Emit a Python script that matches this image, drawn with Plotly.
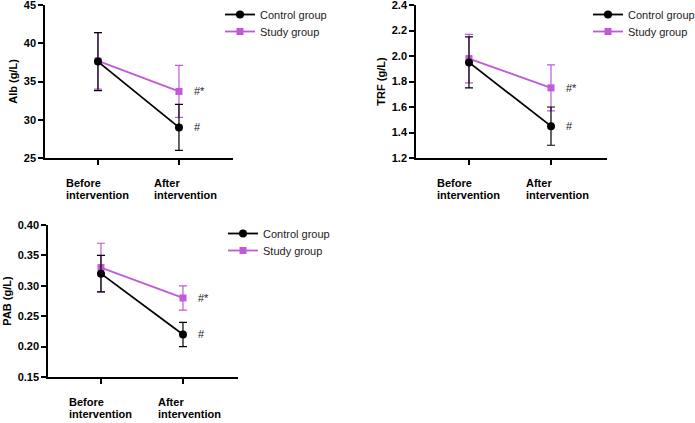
import plotly.graph_objects as go

categories = ["Before intervention", "After intervention"]
tick_line1 = ["Before", "After"]
tick_line2 = ["intervention", "intervention"]
groups = ["Control group", "Study group"]

alb_control = [37.6, 29.0]
alb_control_err = [3.8, 3.0]
alb_study = [37.7, 33.7]
alb_study_err = [3.7, 3.4]

trf_control = [1.95, 1.45]
trf_control_err = [0.20, 0.15]
trf_study = [1.98, 1.75]
trf_study_err = [0.19, 0.18]

pab_control = [0.32, 0.22]
pab_control_err = [0.03, 0.02]
pab_study = [0.33, 0.28]
pab_study_err = [0.04, 0.02]

sig_control = "#"
sig_study = "#*"

BLACK = "#000000"
PURPLE = "#c05ad8"
FONT = "Liberation Sans, Arial, sans-serif"
H, W = 423, 695

panels = [
    dict(name="Alb (g/L)", c=alb_control, ce=alb_control_err, s=alb_study, se=alb_study_err,
         yr=[25, 45], dt=5, fmt="", xd=[45/W, 233/W], yd=[1-158/H, 1-5/H],
         xr=[-0.654, 1.667], legx=220/W, legy=(0, 17)),
    dict(name="TRF (g/L)", c=trf_control, ce=trf_control_err, s=trf_study, se=trf_study_err,
         yr=[1.2, 2.4], dt=0.2, fmt=".1f", xd=[416/W, 607/W], yd=[1-158/H, 1-5/H],
         xr=[-0.646, 1.683], legx=588/W, legy=(0, 17)),
    dict(name="PAB (g/L)", c=pab_control, ce=pab_control_err, s=pab_study, se=pab_study_err,
         yr=[0.15, 0.40], dt=0.05, fmt=".2f", xd=[48/W, 238/W], yd=[1-377/H, 1-225/H],
         xr=[-0.646, 1.671], legx=223/W, legy=(219, 236)),
]

fig = go.Figure()
annotations = []
layout = {}
for i, p in enumerate(panels):
    n = "" if i == 0 else str(i + 1)
    xa, ya = "x" + n, "y" + n
    leg_c = "legend" + ("" if i == 0 else str(2 * i + 1))
    leg_s = "legend" + str(2 * i + 2)
    fig.add_trace(go.Scatter(
        x=categories, y=p["s"], name=groups[1], xaxis=xa, yaxis=ya, legend=leg_s,
        mode="lines+markers",
        line=dict(color=PURPLE, width=1.8),
        marker=dict(symbol="square", size=7, color=PURPLE),
        error_y=dict(type="data", array=p["se"], color=PURPLE, thickness=1.2, width=4),
    ))
    fig.add_trace(go.Scatter(
        x=categories, y=p["c"], name=groups[0], xaxis=xa, yaxis=ya, legend=leg_c,
        mode="lines+markers",
        line=dict(color=BLACK, width=1.8),
        marker=dict(symbol="circle", size=8, color=BLACK),
        error_y=dict(type="data", array=p["ce"], color=BLACK, thickness=1.2, width=4),
    ))
    layout["xaxis" + n] = dict(
        domain=p["xd"], anchor=ya, type="category", categoryorder="array",
        categoryarray=categories, range=p["xr"], showticklabels=False,
        showline=True, linecolor=BLACK, linewidth=1.5, ticks="outside",
        ticklen=5, tickwidth=1.5, tickcolor=BLACK, showgrid=False, zeroline=False,
    )
    layout["yaxis" + n] = dict(
        domain=p["yd"], anchor=xa, range=p["yr"], dtick=p["dt"], tick0=p["yr"][0],
        tickformat=p["fmt"], showline=True, linecolor=BLACK, linewidth=1.5,
        ticks="outside", ticklen=5, tickwidth=1.5, tickcolor=BLACK,
        showgrid=False, zeroline=False, ticklabeloverflow="allow",
        tickfont=dict(family=FONT, size=11, color=BLACK, weight="bold"),
        title=dict(text=p["name"], standoff=4,
                   font=dict(family=FONT, size=11, color=BLACK, weight="bold")),
    )
    for leg, ty in zip([leg_c, leg_s], p["legy"]):
        layout[leg] = dict(
            x=p["legx"], y=1 - ty / H, xanchor="left", yanchor="top",
            bgcolor="rgba(0,0,0,0)",
            font=dict(family=FONT, size=11, color="#222222"),
            itemwidth=30,
        )
    for k, cat in enumerate(categories):
        dx = -34 if k == 0 else -27
        annotations.append(dict(
            x=cat, y=p["yr"][0], xref=xa, yref=ya, text=tick_line1[k], showarrow=False,
            xanchor="left", yanchor="middle", yshift=-25, xshift=dx,
            font=dict(family=FONT, size=11, color=BLACK, weight="bold"),
        ))
        annotations.append(dict(
            x=cat, y=p["yr"][0], xref=xa, yref=ya, text=tick_line2[k], showarrow=False,
            xanchor="left", yanchor="middle", yshift=-37, xshift=dx,
            font=dict(family=FONT, size=11, color=BLACK, weight="bold"),
        ))
    annotations.append(dict(
        x=categories[1], y=p["s"][1], xref=xa, yref=ya, text=sig_study, showarrow=False,
        xanchor="left", yanchor="middle", xshift=13,
        font=dict(family=FONT, size=11, color="#222222"),
    ))
    annotations.append(dict(
        x=categories[1], y=p["c"][1], xref=xa, yref=ya, text=sig_control, showarrow=False,
        xanchor="left", yanchor="middle", xshift=13,
        font=dict(family=FONT, size=11, color="#222222"),
    ))

fig.update_layout(
    **layout,
    annotations=annotations,
    width=W, height=H,
    margin=dict(l=0, r=0, t=0, b=0, autoexpand=False),
    paper_bgcolor="white", plot_bgcolor="white",
    font=dict(family=FONT),
    showlegend=True,
)
fig.write_html("out.html")
